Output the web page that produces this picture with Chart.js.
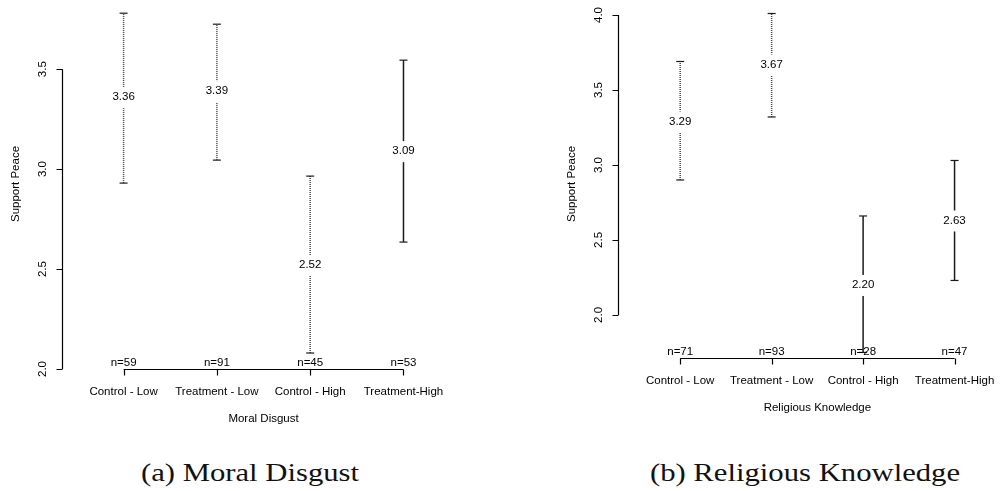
<!DOCTYPE html>
<html lang="en">
<head>
<meta charset="UTF-8">
<title>Support Peace by group</title>
<script src="https://cdn.jsdelivr.net/npm/chart.js"></script>
<style>
  body { margin: 0; background: #fff; width: 1000px; height: 491px; position: relative; overflow: hidden; }
  .panel { position: absolute; top: 0; width: 500px; height: 440px; }
  .caption { position: absolute; top: 457px; font-family: "Liberation Serif", serif; font-size: 26px; color: #111;
             transform: translateX(-50%) scaleX(1.18); white-space: nowrap; line-height: 32px; }
</style>
</head>
<body>
<div class="panel" style="left:0"><canvas id="disgustChart" width="500" height="440"></canvas></div>
<div class="panel" style="left:500px"><canvas id="knowledgeChart" width="500" height="440"></canvas></div>
<div class="caption" style="left:250px">(a) Moral Disgust</div>
<div class="caption" style="left:805px">(b) Religious Knowledge</div>

<script>
// groups on the x axis (same for both panels)
const groups = ['Control - Low', 'Treatment - Low', 'Control - High', 'Treatment-High'];

// (a) Moral Disgust
const disgustMean  = [3.36, 3.39, 2.52, 3.09];
const disgustLower = [2.93, 3.045, 2.08, 2.635];
const disgustUpper = [3.78, 3.725, 2.965, 3.545];
const disgustN     = [59, 91, 45, 53];
const disgustTicks = [2.0, 2.5, 3.0, 3.5];

// (b) Religious Knowledge
const knowledgeMean  = [3.29, 3.67, 2.20, 2.63];
const knowledgeLower = [2.90, 3.32, 1.75, 2.23];
const knowledgeUpper = [3.69, 4.01, 2.66, 3.03];
const knowledgeN     = [71, 93, 28, 47];
const knowledgeTicks = [2.0, 2.5, 3.0, 3.5, 4.0];

const FONT = '"Liberation Sans", Arial, sans-serif';

// one dataset per group: a vertical line from lower to upper with flat caps
function errorBars(lower, upper, dotted) {
    return groups.map((g, i) => ({
        label: g,
        data: [{x: i, y: lower[i]}, {x: i, y: upper[i]}],
        showLine: true,
        borderColor: dotted[i] ? '#444' : '#1a1a1a',
        borderWidth: 1.5,
        borderDash: dotted[i] ? [1, 1] : [],
        pointStyle: 'line',
        pointRadius: 4,
        pointBorderWidth: 1.2,
        pointBorderColor: '#1a1a1a',
        clip: false
    }));
}

// R-like axes, mean labels and n= counts
const rStyle = {
    id: 'rStyle',
    afterDatasetsDraw(chart, args, opts) {
        const ctx = chart.ctx, xs = chart.scales.x, ys = chart.scales.y;
        const area = chart.chartArea;
        ctx.save();
        ctx.font = '11.5px ' + FONT;
        ctx.textAlign = 'center';
        ctx.textBaseline = 'middle';

        // mean labels sit on the bar with a white gap behind them
        opts.means.forEach((m, i) => {
            const px = xs.getPixelForValue(i), py = ys.getPixelForValue(m);
            const txt = m.toFixed(2);
            const w = ctx.measureText(txt).width;
            ctx.fillStyle = '#fff';
            ctx.fillRect(px - w / 2 - 1, py - 10, w + 2, 21);
            ctx.fillStyle = '#000';
            ctx.fillText(txt, px, py);
        });

        ctx.strokeStyle = '#000';
        ctx.lineWidth = 1.2;

        // y axis
        const ax = Math.round(area.left) + 0.5;
        const yTop = ys.getPixelForValue(opts.ticks[opts.ticks.length - 1]);
        const yBot = ys.getPixelForValue(opts.ticks[0]);
        ctx.beginPath();
        ctx.moveTo(ax, yTop);
        ctx.lineTo(ax, yBot);
        opts.ticks.forEach(t => {
            const py = Math.round(ys.getPixelForValue(t)) + 0.5;
            ctx.moveTo(ax, py);
            ctx.lineTo(ax - 6, py);
        });
        ctx.stroke();
        ctx.fillStyle = '#000';
        opts.ticks.forEach(t => {
            ctx.save();
            ctx.translate(ax - 20, ys.getPixelForValue(t));
            ctx.rotate(-Math.PI / 2);
            ctx.fillText(t.toFixed(1), 0, 0);
            ctx.restore();
        });
        ctx.save();
        ctx.translate(ax - 47, opts.titleY);
        ctx.rotate(-Math.PI / 2);
        ctx.fillText('Support Peace', 0, 0);
        ctx.restore();

        // x axis
        const by = Math.round(area.bottom) + 0.5;
        const x0 = xs.getPixelForValue(0), x3 = xs.getPixelForValue(groups.length - 1);
        ctx.beginPath();
        ctx.moveTo(x0, by);
        ctx.lineTo(x3, by);
        groups.forEach((g, i) => {
            const px = Math.round(xs.getPixelForValue(i)) + 0.5;
            ctx.moveTo(px, by);
            ctx.lineTo(px, by + 6);
        });
        ctx.stroke();
        groups.forEach((g, i) => {
            const px = xs.getPixelForValue(i);
            ctx.fillText(g, px, by + 22);
            ctx.fillText('n=' + opts.counts[i], px, by - 7);
        });
        ctx.fillText(opts.title, (x0 + x3) / 2, by + 49);
        ctx.restore();
    }
};

function makePanel(id, cfg) {
    return new Chart(document.getElementById(id), {
        type: 'scatter',
        data: { datasets: errorBars(cfg.lower, cfg.upper, cfg.dotted) },
        options: {
            responsive: false,
            animation: false,
            events: [],
            layout: { padding: cfg.padding },
            scales: {
                x: { type: 'linear', display: false, min: cfg.xMin, max: cfg.xMax },
                y: { type: 'linear', display: false, min: cfg.yMin, max: cfg.yMax }
            },
            plugins: {
                legend: { display: false },
                tooltip: { enabled: false },
                rStyle: { means: cfg.means, counts: cfg.counts, ticks: cfg.ticks, title: cfg.title, titleY: 184 }
            }
        },
        plugins: [rStyle]
    });
}

makePanel('disgustChart', {
    lower: disgustLower, upper: disgustUpper, means: disgustMean, counts: disgustN,
    ticks: disgustTicks, title: 'Moral Disgust',
    dotted: [true, true, true, false],
    padding: { left: 62, right: 34, top: 5, bottom: 71 },
    xMin: -0.66, xMax: 3.67, yMin: 2.0, yMax: 3.82
});

makePanel('knowledgeChart', {
    lower: knowledgeLower, upper: knowledgeUpper, means: knowledgeMean, counts: knowledgeN,
    ticks: knowledgeTicks, title: 'Religious Knowledge',
    dotted: [true, true, false, false],
    padding: { left: 118, right: 0, top: 6, bottom: 82 },
    xMin: -0.68, xMax: 3.44, yMin: 1.713, yMax: 4.06
});
</script>
</body>
</html>
